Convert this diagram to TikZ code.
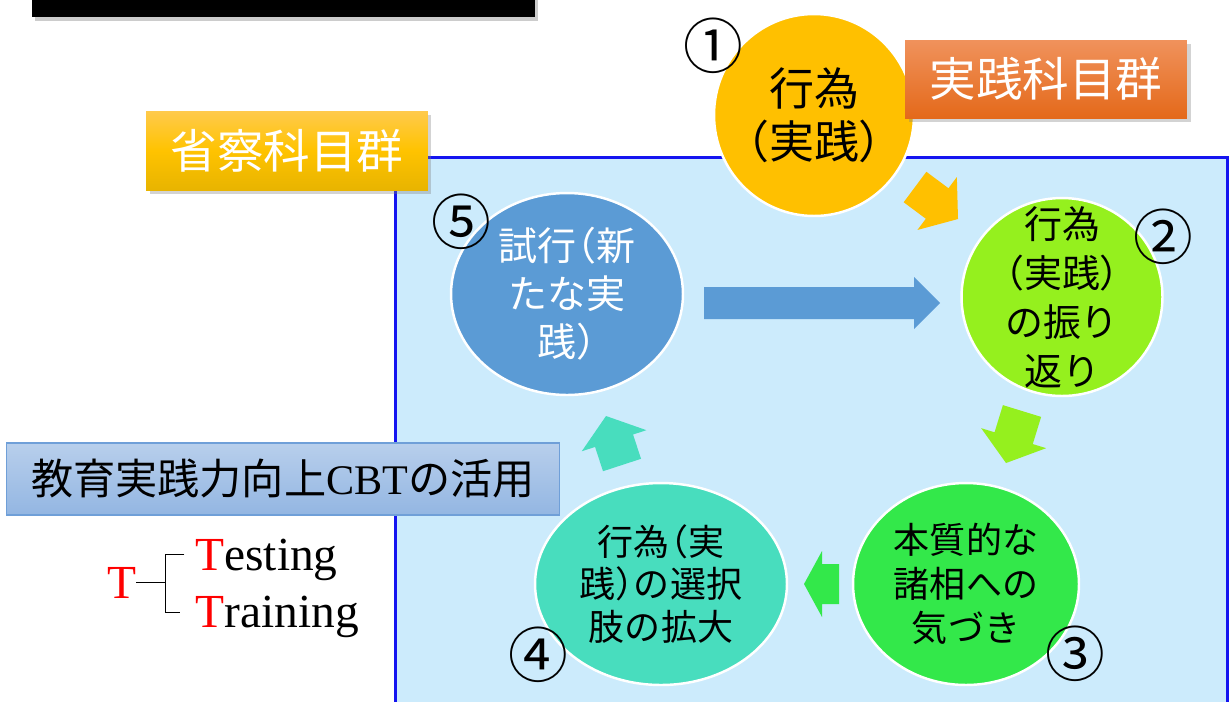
\documentclass[tikz,border=0pt]{standalone}
\usepackage{fontspec}
\setmainfont{Liberation Serif}
\newfontfamily\jp[RawFeature=+halt]{Noto Sans CJK JP}
\newfontfamily\jpnum{Noto Sans CJK JP}
\usetikzlibrary{calc,shapes.geometric,shadows}
\definecolor{bgblue}{HTML}{CCEBFC}
\definecolor{frameblue}{HTML}{1414F0}
\definecolor{cone}{HTML}{FFC000}
\definecolor{ctwo}{HTML}{95F01E}
\definecolor{cthree}{HTML}{33E84A}
\definecolor{cfour}{HTML}{48DDBE}
\definecolor{cfive}{HTML}{5B9BD5}
\definecolor{orgtop}{HTML}{F0925C}
\definecolor{orgbot}{HTML}{E4691A}
\definecolor{yeltop}{HTML}{FFCA4C}
\definecolor{yelmid}{HTML}{FFC300}
\definecolor{yelbot}{HTML}{E8B400}
\definecolor{lbtop}{HTML}{B8CFEC}
\definecolor{lbbot}{HTML}{93B6E2}
\definecolor{lbline}{HTML}{6F9FD8}
\newcommand\blockarrow[6]{%
  \coordinate (ba-N) at ($(#2)!#5!(#1)$);
  \fill[#6] ($(#1)!#3!90:(#2)$) -- ($(ba-N)!#3!90:(#2)$) -- ($(ba-N)!#4!90:(#2)$) -- (#2)
    -- ($(ba-N)!#4!-90:(#2)$) -- ($(ba-N)!#3!-90:(#2)$) -- ($(#1)!#3!-90:(#2)$) -- cycle;}
\begin{document}
\begin{tikzpicture}[x=0.02cm,y=-0.02cm,
  bubble/.style={ellipse, draw=white, line width=1.4pt, inner sep=0pt},
  ctext/.style={align=center, inner sep=0pt},
  tag/.style={rectangle, inner sep=0pt, text=white, minimum width=5.64cm,
    drop shadow={shadow xshift=2pt, shadow yshift=-2.5pt, opacity=0.35},
    font=\jp\fontsize{26.5pt}{30pt}\selectfont},
  num/.style={inner sep=0pt, font=\jpnum\fontsize{34pt}{34pt}\selectfont},
  brk/.style={line width=0.9pt}]
\useasboundingbox (0,0) rectangle (1229,701);
% title bar (cropped)
\node[fill=black, minimum width=10.06cm, minimum height=0.54cm, inner sep=0pt,
  drop shadow={shadow xshift=1.5pt, shadow yshift=-2.5pt, opacity=0.4}] (title) at (283.5,3.5) {};
% reflection area
\draw[frameblue, fill=bgblue, line width=1.7pt] (395,157) rectangle (1227,720);
% circles
\node[bubble, fill=cone, minimum width=4cm, minimum height=4.04cm] (c1) at (814,115) {};
\node[bubble, fill=ctwo, minimum width=4.02cm, minimum height=3.96cm] (c2) at (1062,297) {};
\node[bubble, fill=cthree, minimum width=4.52cm, minimum height=4.04cm] (c3) at (966,584) {};
\node[bubble, fill=cfour, minimum width=5.04cm, minimum height=4.04cm] (c4) at (661,584) {};
\node[bubble, fill=cfive, minimum width=4.64cm, minimum height=4.04cm] (c5) at (567,294) {};
\node[ctext, font=\jp\fontsize{25.6pt}{30.2pt}\selectfont] (t1) at (c1) {行為\\（実践）};
\node[ctext, font=\jp\fontsize{21.6pt}{27.9pt}\selectfont] (t2) at (c2) {行為\\（実践）\\の振り\\返り};
\node[ctext, font=\jp\fontsize{20.5pt}{25pt}\selectfont] (t3) at (c3) {本質的な\\諸相への\\気づき};
\node[ctext, font=\jp\fontsize{20.5pt}{24pt}\selectfont] (t4) at (c4) {行為（実\\践）の選択\\肢の拡大};
\node[ctext, text=white, font=\jp\fontsize{22.2pt}{27.3pt}\selectfont] (t5) at (c5) {試行（新\\たな実\\践）};
% numbers
\node[num] (n1) at (713,46) {①};
\node[num] (n2) at (1163,237) {②};
\node[num] (n3) at (1075,654) {③};
\node[num] (n4) at (538,655) {④};
\node[num] (n5) at (461,222) {⑤};
% block arrows
\coordinate (a1t) at (915,187); \coordinate (a1h) at (958,219);
\coordinate (a2t) at (1022,411); \coordinate (a2h) at (1006,463);
\coordinate (a3t) at (839,584); \coordinate (a3h) at (804,584);
\coordinate (a4t) at (622,465); \coordinate (a4h) at (606,416);
\coordinate (a5t) at (704,303); \coordinate (a5h) at (940,303);
\blockarrow{a1t}{a1h}{0.38cm}{0.66cm}{0.52cm}{cone}
\blockarrow{a2t}{a2h}{0.4cm}{0.68cm}{0.52cm}{ctwo}
\blockarrow{a3t}{a3h}{0.4cm}{0.66cm}{0.36cm}{cthree}
\blockarrow{a4t}{a4h}{0.4cm}{0.68cm}{0.52cm}{cfour}
\blockarrow{a5t}{a5h}{0.32cm}{0.52cm}{0.52cm}{cfive}
% tags
\node[tag, minimum height=1.58cm, top color=yeltop, bottom color=yelbot, middle color=yelmid] (refl) at (287,150.5) {省察科目群};
\node[tag, minimum height=1.56cm, top color=orgtop, bottom color=orgbot] (prac) at (1046,79) {実践科目群};
\node[rectangle, draw=lbline, line width=0.6pt, top color=lbtop, bottom color=lbbot,
  minimum width=11.08cm, minimum height=1.44cm, inner sep=0pt,
  font=\fontsize{24pt}{28pt}\selectfont] (cbt) at (283,479) {{\jp 教育実践力向上}CBT{\jp の活用}};
% T bracket
\node[inner sep=0pt, anchor=base, text=red, font=\fontsize{27pt}{30pt}\selectfont] (tt) at (121.5,598) {T};
\node[inner sep=0pt, anchor=base west, font=\fontsize{27pt}{30pt}\selectfont] (testing) at (195,570) {\textcolor{red}{T}esting};
\node[inner sep=0pt, anchor=base west, font=\fontsize{27pt}{30pt}\selectfont] (training) at (195,627) {\textcolor{red}{T}raining};
\draw[brk] (tt.east) -- ++(29,0) coordinate (bm);
\draw[brk] ($(bm)+(19,-28)$) -- ($(bm)+(0,-28)$) -- ($(bm)+(0,30)$) -- ($(bm)+(15,30)$);
\end{tikzpicture}
\end{document}
